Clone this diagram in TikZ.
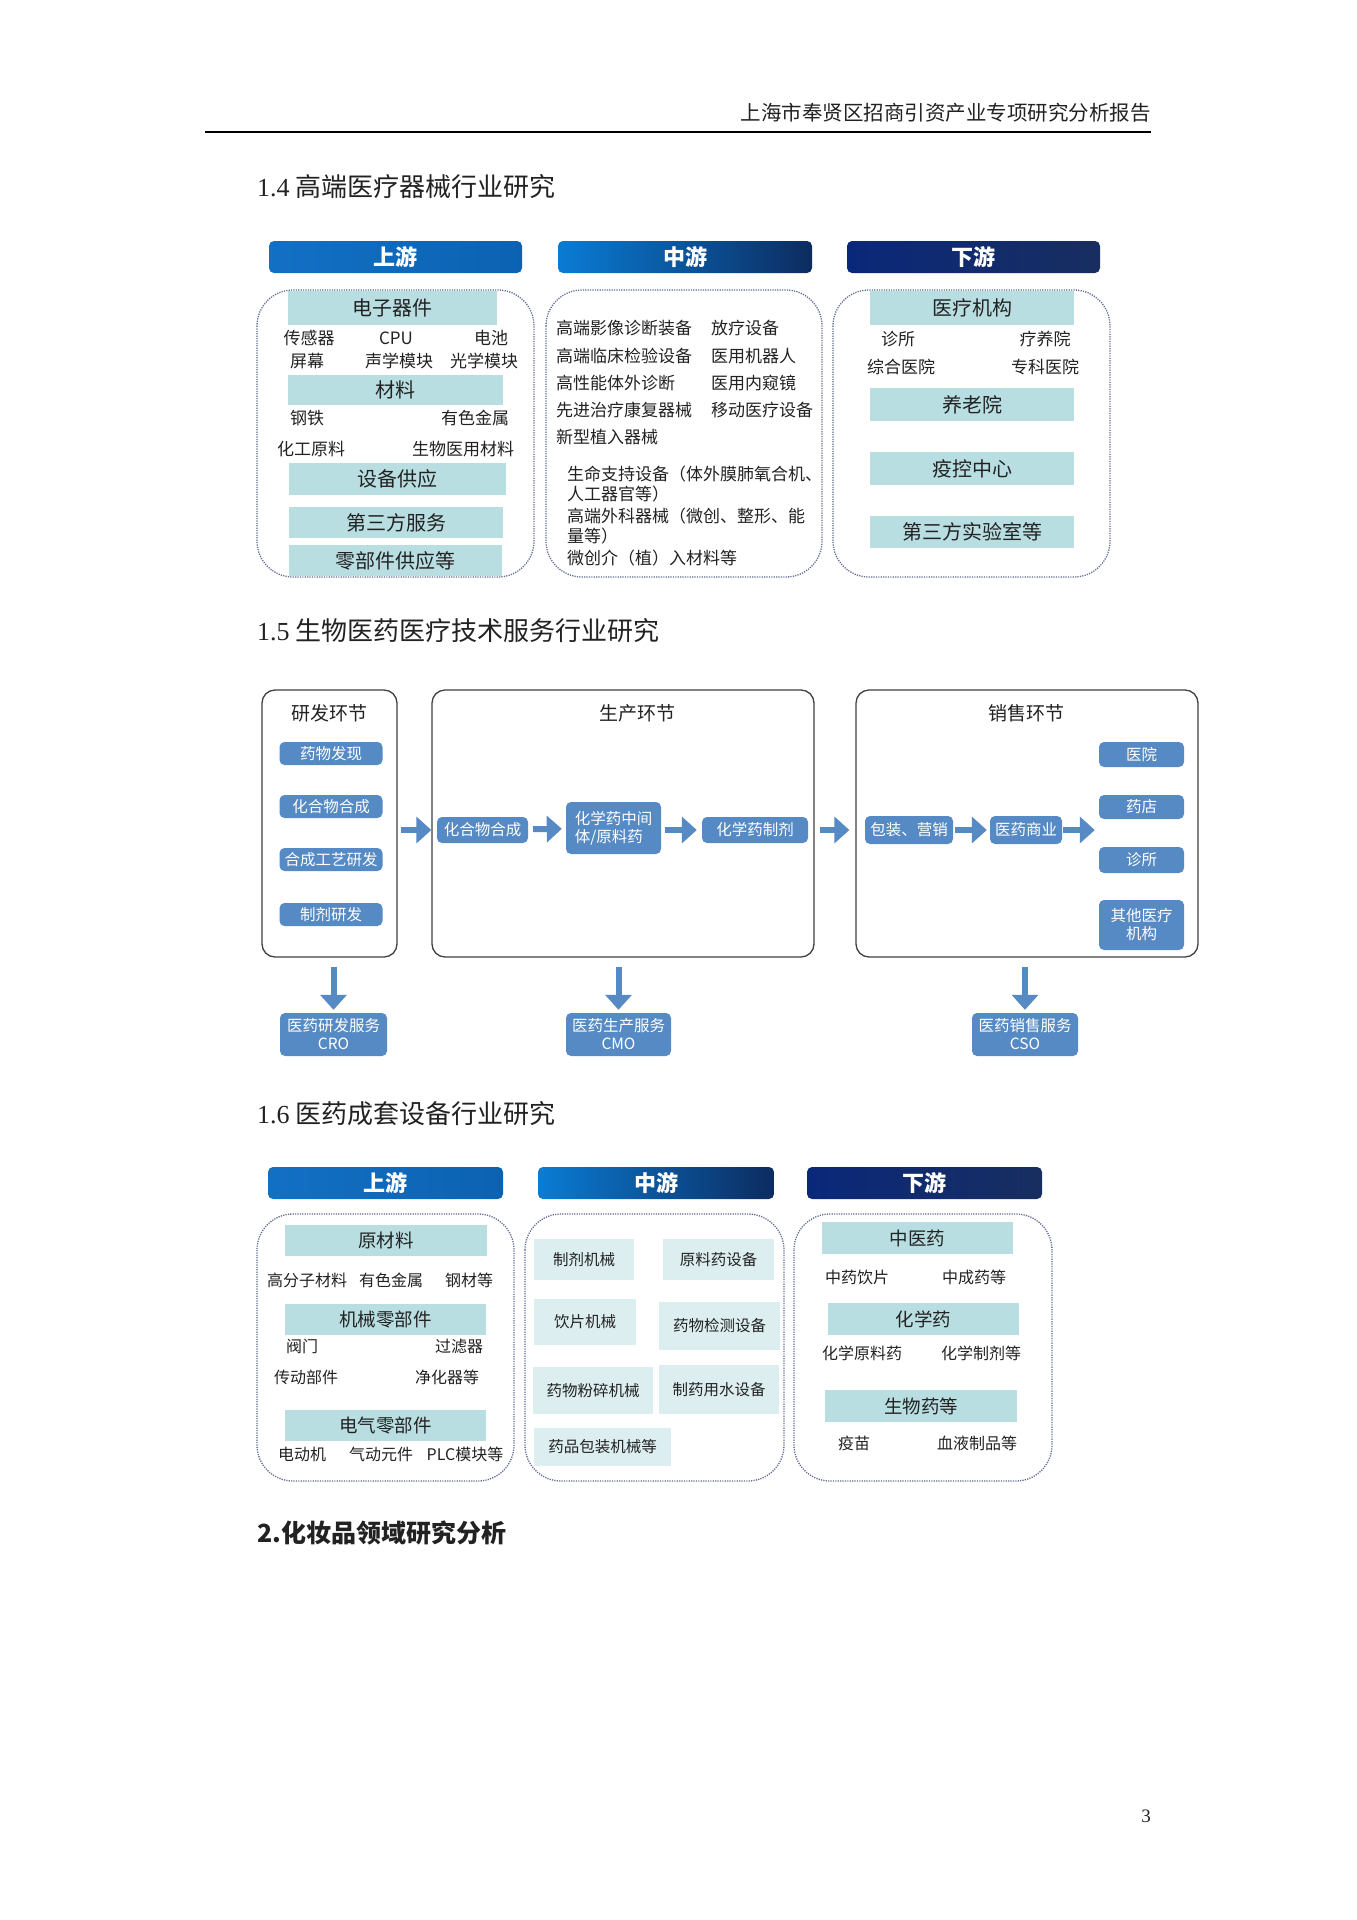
\documentclass[tikz,border=0pt]{standalone}
\usepackage{fontspec}
\setmainfont{Noto Sans CJK SC}
\newfontfamily\numfont{Liberation Serif}
\usetikzlibrary{arrows.meta}

\definecolor{upblue}{RGB}{18,112,196}
\definecolor{upblueb}{RGB}{12,98,178}
\definecolor{midblue}{RGB}{10,124,212}
\definecolor{midblueb}{RGB}{8,104,188}
\definecolor{midnavy}{RGB}{12,44,96}
\definecolor{downnavy}{RGB}{10,40,122}
\definecolor{downnavyb}{RGB}{24,46,96}
\definecolor{catfill}{RGB}{185,222,226}
\definecolor{boxfill}{RGB}{221,238,240}
\definecolor{pillblue}{RGB}{86,138,196}
\definecolor{grpline}{RGB}{96,106,146}
\definecolor{stageline}{RGB}{64,64,64}
\definecolor{txt}{RGB}{34,34,34}

\newcommand{\fsz}[1]{\fontsize{#1}{#1}\selectfont}

\begin{document}
\begin{tikzpicture}[x=1pt, y=-1pt,
    hdr/.style={rounded corners=5pt, minimum height=32pt, inner sep=0pt,
                text=white, font=\fsz{22}\bfseries},
    grp/.style={draw=grpline, line width=1.3pt, dash pattern=on 1.2pt off 1.2pt,
                rounded corners=36pt},
    cat/.style={fill=catfill, inner sep=0pt, text=txt, font=\fsz{20}},
    item/.style={inner sep=0pt, text=txt, font=\fsz{17}},
    stage/.style={draw=stageline, line width=1.3pt, rounded corners=13pt, inner sep=0pt},
    stitle/.style={inner sep=0pt, text=txt, font=\fsz{19}},
    pill/.style={fill=pillblue, rounded corners=5pt, inner sep=0pt, text=white,
                 font=\fontsize{15.5}{18}\selectfont, align=center},
    blk/.style={draw=pillblue, line width=6pt, -{Triangle[length=15pt,width=26pt]}},
    sect/.style={anchor=west, inner sep=0pt, text=txt, font=\fsz{26}},
    mbox/.style={fill=boxfill, inner sep=0pt, text=txt, font=\fsz{15.5}}
]
\useasboundingbox (0,0) rectangle (1357,1920);
\fill[white] (0,0) rectangle (1357,1920);

% running head
\node[anchor=east, inner sep=0pt, text=txt, font=\fsz{20.5}] (runhead) at (1151,113)
    {上海市奉贤区招商引资产业专项研究分析报告};
\draw[line width=2pt] (205,132) -- (1151,132);

% ---------- 1.4 ----------
\node[sect] (t14) at (257,187) {{\numfont 1.4} 高端医疗器械行业研究};

\node[hdr, minimum width=253pt, left color=upblue, right color=upblueb] (up1) at (395.5,257) {上游};
\node[hdr, minimum width=254pt, left color=midblue, middle color=midblueb, right color=midnavy] (mid1) at (685,257) {中游};
\node[hdr, minimum width=253pt, left color=downnavy, right color=downnavyb] (down1) at (973.5,257) {下游};

\draw[grp] (257,290) rectangle (534,577);
\draw[grp] (546,290) rectangle (822,577);
\draw[grp] (833,290) rectangle (1110,577);

% upstream
\node[cat, minimum width=209pt, minimum height=34pt] (elec) at (392.5,308) {电子器件};
\node[cat, minimum width=215pt, minimum height=30pt] (mat) at (395.5,390) {材料};
\node[cat, minimum width=217pt, minimum height=32pt] (equip) at (397.5,479) {设备供应};
\node[cat, minimum width=214pt, minimum height=31pt] (third) at (396,522.5) {第三方服务};
\node[cat, minimum width=213pt, minimum height=31pt] (parts) at (395.5,560.5) {零部件供应等};
\foreach \name/\x/\y/\lbl in {sens/309/338/传感器, cpu/396/338/CPU, batt/491/338/电池,
    scrn/307/361/屏幕, acou/399/361/声学模块, opti/484/361/光学模块,
    steel/307/418/钢铁, nonfe/475/418/有色金属,
    chem/311/449/化工原料, biom/463/449/生物医用材料}
  \node[item] (\name) at (\x,\y) {\lbl};

% midstream
\foreach \name/\y/\lbl in {img/328/高端影像诊断装备, clin/356/高端临床检验设备,
    ivd/383/高性能体外诊断, rehab/410/先进治疗康复器械, impl/437/新型植入器械}
  \node[item, anchor=west] (\name) at (556,\y) {\lbl};
\foreach \name/\y/\lbl in {radio/328/放疗设备, robot/356/医用机器人,
    endo/383/医用内窥镜, mobile/410/移动医疗设备}
  \node[item, anchor=west] (\name) at (711,\y) {\lbl};
\node[item, anchor=north west, align=left, font=\fontsize{17}{20}\selectfont] (life) at (567,466)
    {生命支持设备（体外膜肺氧合机、\\人工器官等）};
\node[item, anchor=north west, align=left, font=\fontsize{17}{20}\selectfont] (surg) at (567,508)
    {高端外科器械（微创、整形、能\\量等）};
\node[item, anchor=west] (mini) at (567,558) {微创介（植）入材料等};

% downstream
\node[cat, minimum width=204pt, minimum height=34pt] (inst) at (972,308) {医疗机构};
\node[cat, minimum width=204pt, minimum height=33pt] (aged) at (972,404.5) {养老院};
\node[cat, minimum width=204pt, minimum height=33pt] (cdc) at (972,468.5) {疫控中心};
\node[cat, minimum width=204pt, minimum height=32pt] (lab) at (972,531.5) {第三方实验室等};
\foreach \name/\x/\y/\lbl in {clinic/898/339/诊所, sanat/1045/339/疗养院,
    genh/901/367/综合医院, spech/1045/367/专科医院}
  \node[item] (\name) at (\x,\y) {\lbl};

% ---------- 1.5 ----------
\node[sect] (t15) at (257,631) {{\numfont 1.5} 生物医药医疗技术服务行业研究};

\node[stage, minimum width=135pt, minimum height=267pt] (rd) at (329.5,823.5) {};
\node[stage, minimum width=382pt, minimum height=267pt] (prod) at (623,823.5) {};
\node[stage, minimum width=342pt, minimum height=267pt] (sales) at (1027,823.5) {};
\node[stitle] (rdt) at (329,713) {研发环节};
\node[stitle] (prodt) at (637,713) {生产环节};
\node[stitle] (salest) at (1026,713) {销售环节};

\foreach \name/\y/\lbl in {disc/753.5/药物发现, synth/806.5/化合物合成,
    proc/859.5/合成工艺研发, form/914.5/制剂研发}
  \node[pill, minimum width=103pt, minimum height=23pt] (\name) at (331,\y) {\lbl};

\node[pill, minimum width=91pt, minimum height=26pt] (cmpd) at (482.5,830) {化合物合成};
\node[pill, minimum width=95pt, minimum height=52pt, align=left] (api) at (613.5,828) {化学药中间\\体/原料药};
\node[pill, minimum width=106pt, minimum height=26pt] (prep) at (755,830) {化学药制剂};
\node[pill, minimum width=88pt, minimum height=28pt] (pack) at (909,830) {包装、营销};
\node[pill, minimum width=72pt, minimum height=28pt] (merch) at (1026,830) {医药商业};

\node[pill, minimum width=85pt, minimum height=25pt] (hosp) at (1141.5,754.5) {医院};
\node[pill, minimum width=85pt, minimum height=24pt] (pharm) at (1141.5,807) {药店};
\node[pill, minimum width=85pt, minimum height=26pt] (clin2) at (1141.5,860) {诊所};
\node[pill, minimum width=85pt, minimum height=50pt] (other) at (1141.5,925) {其他医疗\\机构};

\node[pill, minimum width=107pt, minimum height=43pt] (cro) at (333.5,1034.5) {医药研发服务\\CRO};
\node[pill, minimum width=105pt, minimum height=43pt] (cmo) at (618.5,1034.5) {医药生产服务\\CMO};
\node[pill, minimum width=106pt, minimum height=43pt] (cso) at (1025,1034.5) {医药销售服务\\CSO};

\draw[blk, shorten <=3pt] (rd.east |- cmpd.west) -- (prod.west |- cmpd.west);
\draw[blk, shorten <=5pt, shorten >=4pt] (cmpd) -- (api);
\draw[blk, shorten <=4pt, shorten >=5pt] (api.east |- prep) -- (prep);
\draw[blk, shorten <=5pt, shorten >=6pt] (prod.east |- prep) -- (sales.west |- prep);
\draw[blk, shorten <=2pt, shorten >=3pt] (pack) -- (merch);
\draw[blk, shorten <=1pt, shorten >=4pt] (merch) -- (merch -| pharm.west);
\draw[blk, shorten <=9pt, shorten >=3pt] (cro.north |- rd.south) -- (cro.north);
\draw[blk, shorten <=9pt, shorten >=3pt] (cmo.north |- prod.south) -- (cmo.north);
\draw[blk, shorten <=9pt, shorten >=3pt] (cso.north |- sales.south) -- (cso.north);

% ---------- 1.6 ----------
\node[sect] (t16) at (257,1114) {{\numfont 1.6} 医药成套设备行业研究};

\node[hdr, minimum width=235pt, left color=upblue, right color=upblueb] (up2) at (385.5,1183) {上游};
\node[hdr, minimum width=236pt, left color=midblue, middle color=midblueb, right color=midnavy] (mid2) at (656,1183) {中游};
\node[hdr, minimum width=235pt, left color=downnavy, right color=downnavyb] (down2) at (924.5,1183) {下游};

\draw[grp] (257,1214) rectangle (514,1481);
\draw[grp] (525,1214) rectangle (784,1481);
\draw[grp] (794,1214) rectangle (1052,1481);

% upstream
\node[cat, font=\fsz{18.5}, minimum width=202pt, minimum height=31pt] (raw) at (386,1240.5) {原材料};
\node[cat, font=\fsz{18.5}, minimum width=201pt, minimum height=31pt] (mech) at (385.5,1319.5) {机械零部件};
\node[cat, font=\fsz{18.5}, minimum width=201pt, minimum height=31pt] (elecp) at (385.5,1425.5) {电气零部件};
\foreach \name/\x/\y/\lbl in {poly/307/1280/高分子材料, nfm/391/1280/有色金属, stl/469/1280/钢材等,
    valve/302/1346/阀门, filt/459/1346/过滤器,
    drive/306/1377/传动部件, puri/447/1377/净化器等,
    motor/302/1454/电动机, pneu/381/1454/气动元件, plc/465/1454/PLC模块等}
  \node[item, font=\fsz{16}] (\name) at (\x,\y) {\lbl};

% midstream
\node[mbox, minimum width=100pt, minimum height=41pt] (prepm) at (584,1259.5) {制剂机械};
\node[mbox, minimum width=111pt, minimum height=41pt] (apim) at (718.5,1259.5) {原料药设备};
\node[mbox, minimum width=102pt, minimum height=46pt] (slice) at (585,1322) {饮片机械};
\node[mbox, minimum width=121pt, minimum height=48pt] (test) at (719.5,1326) {药物检测设备};
\node[mbox, minimum width=120pt, minimum height=47pt] (mill) at (593,1390.5) {药物粉碎机械};
\node[mbox, minimum width=120pt, minimum height=49pt] (water) at (719,1389.5) {制药用水设备};
\node[mbox, minimum width=137pt, minimum height=38pt] (packm) at (602.5,1447) {药品包装机械等};

% downstream
\node[cat, font=\fsz{18.5}, minimum width=191pt, minimum height=32pt] (tcm) at (917.5,1238) {中医药};
\node[cat, font=\fsz{18.5}, minimum width=191pt, minimum height=32pt] (cdrug) at (923.5,1319) {化学药};
\node[cat, font=\fsz{18.5}, minimum width=192pt, minimum height=32pt] (bio) at (921,1406) {生物药等};
\foreach \name/\x/\y/\lbl in {herb/857/1277/中药饮片, patent/974/1277/中成药等,
    capi/862/1353/化学原料药, cprep/981/1353/化学制剂等,
    vacc/854/1443/疫苗, blood/977/1443/血液制品等}
  \node[item, font=\fsz{16}] (\name) at (\x,\y) {\lbl};

% ---------- 2 ----------
\node[sect, font=\fsz{25}\bfseries] (t2) at (257,1533) {2.化妆品领域研究分析};

\node[inner sep=0pt, text=txt, font=\numfont\fsz{19}] (pageno) at (1146,1816) {3};
\end{tikzpicture}
\end{document}
